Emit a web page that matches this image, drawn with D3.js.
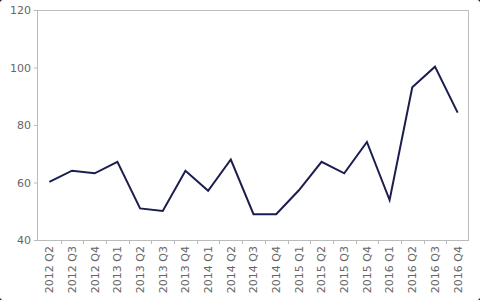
<!DOCTYPE html>
<html>
<head>
<meta charset="utf-8">
<script src="https://cdn.jsdelivr.net/npm/d3@7"></script>
<style>
  html, body { margin: 0; padding: 0; background: #000; }
  svg { display: block; }
  .axis text { font-family: "DejaVu Sans", sans-serif; font-size: 11px; fill: #666; }
  .axis path, .axis line { stroke: #bbb; }
</style>
</head>
<body>
<div id="chart"></div>
<script>
// quarters shown on the x axis
const quarters = ["2012 Q2", "2012 Q3", "2012 Q4", "2013 Q1", "2013 Q2", "2013 Q3", "2013 Q4",
  "2014 Q1", "2014 Q2", "2014 Q3", "2014 Q4", "2015 Q1", "2015 Q2", "2015 Q3", "2015 Q4",
  "2016 Q1", "2016 Q2", "2016 Q3", "2016 Q4"];
// values
const values = [60.2, 64.1, 63.2, 67.2, 51, 50.1, 64.1, 57.1, 68, 49, 49, 57.3, 67.2, 63.2, 74.1, 53.9, 93.1, 100.3, 84.3];
const yTicks = [40, 60, 80, 100, 120];

const W = 480, H = 300;
const margin = { top: 10, right: 11, bottom: 60, left: 38 };
const width = W - margin.left - margin.right,
      height = H - margin.top - margin.bottom;

const svg = d3.select("#chart").append("svg")
  .attr("width", W)
  .attr("height", H);

// white card with slightly rounded corners
svg.append("rect")
  .attr("width", W).attr("height", H)
  .attr("rx", 3).attr("fill", "#fff");

const g = svg.append("g")
  .attr("transform", `translate(${margin.left},${margin.top})`);

const x = d3.scaleBand().domain(quarters).range([0, width]);
const y = d3.scaleLinear().domain([40, 120]).range([height, 0]);

// frame: top and right border
g.append("path")
  .attr("d", `M0,0.5H${width - 0.5}V${height}`)
  .attr("fill", "none")
  .attr("stroke", "#bbb");

// y axis
g.append("g")
  .attr("class", "axis")
  .call(d3.axisLeft(y).tickValues(yTicks).tickSize(4).tickPadding(3))
  .call(a => a.select(".domain").attr("d", `M-0.5,0V${height}`));

// x axis, ticks on band boundaries
const xAxis = g.append("g")
  .attr("class", "axis")
  .attr("transform", `translate(0,${height})`);
xAxis.append("path")
  .attr("d", `M0,0.5H${width}`)
  .attr("stroke", "#bbb");
xAxis.selectAll(".tk")
  .data(quarters.slice(1))
  .enter().append("line")
  .attr("class", "tk")
  .attr("x1", d => Math.round(x(d)) + 0.5)
  .attr("x2", d => Math.round(x(d)) + 0.5)
  .attr("y1", 0).attr("y2", 4);
xAxis.selectAll("text")
  .data(quarters)
  .enter().append("text")
  .attr("transform", d => `translate(${x(d) + x.bandwidth() / 2},6) rotate(-90)`)
  .attr("text-anchor", "end")
  .attr("dy", "0.35em")
  .text(d => d);

// the line
const line = d3.line()
  .x((d, i) => x(quarters[i]) + x.bandwidth() / 2)
  .y(d => y(d));

g.append("path")
  .datum(values)
  .attr("fill", "none")
  .attr("stroke", "#1b1d4f")
  .attr("stroke-width", 2)
  .attr("stroke-linejoin", "miter")
  .attr("d", line);
</script>
</body>
</html>
